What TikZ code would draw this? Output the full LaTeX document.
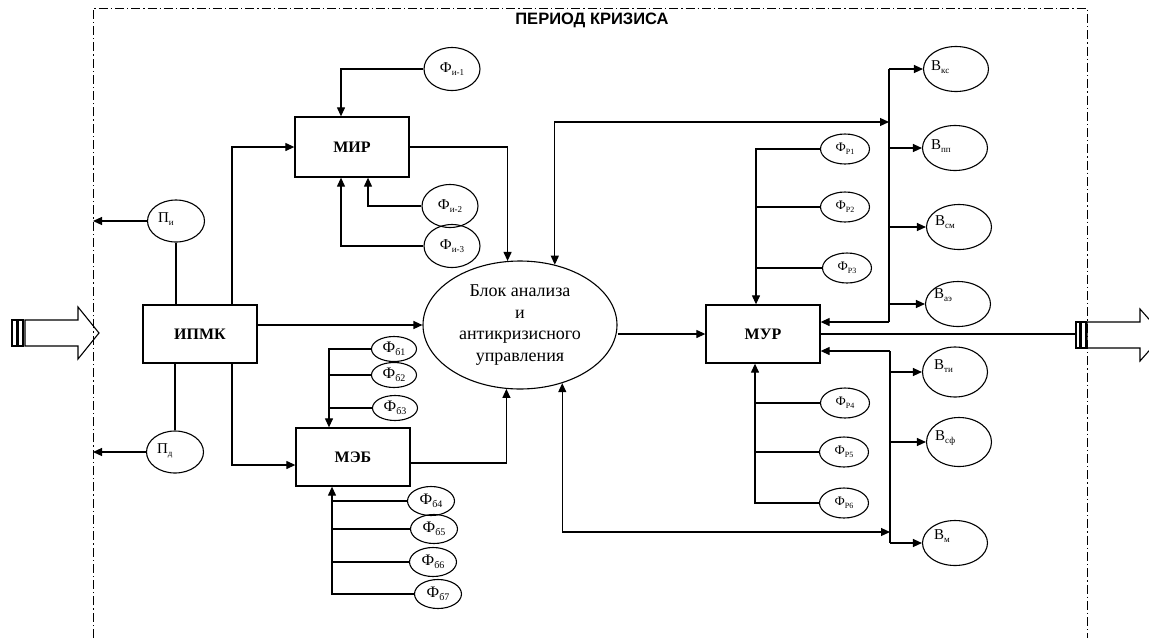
\documentclass[tikz,border=0pt]{standalone}
\usepackage{fontspec}
\setmainfont{Liberation Serif}
\newfontfamily\titlefont{Liberation Sans}
\usetikzlibrary{arrows.meta,positioning,calc,shapes.geometric}
\tikzset{
  blk/.style   ={draw,line width=1.3pt,minimum width=114pt,minimum height=58pt,inner sep=0pt,font=\fontsize{16}{16}\selectfont\bfseries},
  ov/.style    ={ellipse,draw,line width=1.1pt,inner sep=0pt},
  fio/.style   ={ov,minimum width=56pt,minimum height=43pt,font=\fontsize{15}{15}\selectfont},
  fbo/.style   ={ov,minimum width=45pt,minimum height=25pt,font=\fontsize{16}{16}\selectfont},
  fbl/.style   ={fbo,minimum width=47pt,minimum height=29pt},
  fro/.style   ={ov,minimum width=49pt,minimum height=30pt,font=\fontsize{13}{13}\selectfont},
  vo/.style    ={ov,minimum width=65pt,minimum height=45pt},
  po/.style    ={ov,minimum width=57pt,minimum height=42pt},
  ltxt/.style  ={anchor=west,inner sep=0pt,font=\fontsize{15}{15}\selectfont},
  ln/.style    ={line width=1.2pt},
  arr/.style   ={ln,-{Triangle[length=9pt,width=8pt]}},
  arrs/.style  ={ln,{Triangle[length=9pt,width=8pt]}-{Triangle[length=9pt,width=8pt]}},
  frame/.style ={line width=1pt,dash pattern=on 9pt off 3pt on 1.3pt off 3pt},
  bigarr/.style={draw,line width=1.1pt},
}
\newcommand{\lowix}[2][9]{\raisebox{-0.45ex}{\fontsize{#1}{#1}\selectfont #2}}

\begin{document}
\begin{tikzpicture}[x=1pt,y=-1pt]
  \useasboundingbox (0,0) rectangle (1149,638);
  % input and output arrows
  \draw[bigarr] (12,320) rectangle (17,346);
  \draw[bigarr] (18,320) rectangle (23,346);
  \draw[bigarr] (25,320) -- (78,320) -- (78,307) -- (99,333) -- (78,359) -- (78,346) -- (25,346) -- cycle;
  \draw[bigarr] (1076,322) rectangle (1080,348);
  \draw[bigarr] (1081,322) rectangle (1086,348);
  \draw[bigarr] (1087,322) -- (1140,322) -- (1140,309) -- (1163,335) -- (1140,361) -- (1140,348) -- (1087,348) -- cycle;
  % crisis period frame
  \draw[frame] (93,638) -- (93,8) -- (1087,8) -- (1087,638);
  \node[font=\titlefont\bfseries\fontsize{16.5}{16.5}\selectfont] (title) at (592,20.5) {ПЕРИОД КРИЗИСА};
  \coordinate (fl) at (93,0);

  % blocks
  \node[blk] (ipmk) at (200,334) {ИПМК};
  \node[blk,minimum height=60pt] (mir) at (352,147) {МИР};
  \node[blk] (meb) at (353,457) {МЭБ};
  \node[blk] (mur) at (763,334) {МУР};
  \node[ov,minimum width=194pt,minimum height=128pt,align=center,font=\fontsize{18}{21.7}\selectfont] (blok) at (520,325)
       {Блок анализа\\и\\антикризисного\\управления};

  % P ovals
  \node[po,label={[ltxt,xshift=11pt,yshift=2pt]west:П\lowix{и}}] (pi) at (176,221) {};
  \node[po,label={[ltxt,xshift=11pt,yshift=1pt]west:П\lowix{д}}] (pd) at (175,452) {};
  \draw[arr] (pi.west) -- (pi.west -| fl);
  \draw[arr] (pd.west) -- (pd.west -| fl);
  \draw[ln] (pi.south) -- (pi.south |- ipmk.north);
  \draw[ln] (pd.north) -- (pd.north |- ipmk.south);
  \draw[arr] ([xshift=32pt]ipmk.north) |- (mir.west);
  \draw[arr] ([xshift=32pt]ipmk.south) |- ([yshift=-8pt]meb.west);
  \draw[arr] (ipmk.east |- blok.west) -- (blok.west);

  % MIR factors
  \node[fio] (fi1) at (452,69) {Ф\lowix{и-1}};
  \node[fio] (fi2) at (450,206) {Ф\lowix{и-2}};
  \node[fio] (fi3) at (452,246) {Ф\lowix{и-3}};
  \draw[arr] (fi1.west) -| ([xshift=-11pt]mir.north);
  \draw[arr] (fi2.west) -| ([xshift=16pt]mir.south);
  \draw[arr] (fi3.west) -| ([xshift=-11pt]mir.south);
  \draw[arr] (mir.east) -| (blok.101.6);

  % MEB factors
  \node[fbo] (fb1) at (394,349) {Ф\lowix[10]{б1}};
  \node[fbo] (fb2) at (394,375) {Ф\lowix[10]{б2}};
  \node[fbo] (fb3) at (395,408) {Ф\lowix[10]{б3}};
  \node[fbl] (fb4) at (431,501) {Ф\lowix[10]{б4}};
  \node[fbl] (fb5) at (434,529) {Ф\lowix[10]{б5}};
  \node[fbl] (fb6) at (433,562) {Ф\lowix[10]{б6}};
  \node[fbl] (fb7) at (438,594) {Ф\lowix[10]{б7}};
  \draw[arr] (fb1.west) -| ([xshift=-24pt]meb.north);
  \foreach \f in {fb2,fb3}
    \draw[ln] (\f.west) -- ([xshift=-24pt]meb.north |- \f.west);
  \draw[arr] (fb7.west) -| ([xshift=-21pt]meb.south);
  \foreach \f in {fb4,fb5,fb6}
    \draw[ln] (\f.west) -- ([xshift=-21pt]meb.south |- \f.west);
  \draw[arr] ([yshift=-6pt]meb.east) -| (blok.258.4);

  % to MUR
  \draw[arr] (mur.west -| blok.east) -- (mur.west);
  \draw[ln] (mur.east) -- (1076,334);

  % MUR factors
  \node[fro] (fr1) at (845,149) {Ф\lowix[8]{Р1}};
  \node[fro] (fr2) at (845,207) {Ф\lowix[8]{Р2}};
  \node[fro] (fr3) at (847,268) {Ф\lowix[8]{Р3}};
  \node[fro] (fr4) at (845,403) {Ф\lowix[8]{Р4}};
  \node[fro] (fr5) at (844,452) {Ф\lowix[8]{Р5}};
  \node[fro] (fr6) at (844,503) {Ф\lowix[8]{Р6}};
  \draw[arr] (fr1.west) -| ([xshift=-7pt]mur.north);
  \foreach \f in {fr2,fr3}
    \draw[ln] (\f.west) -- ([xshift=-7pt]mur.north |- \f.west);
  \draw[arr] (fr6.west) -| ([xshift=-8pt]mur.south);
  \foreach \f in {fr4,fr5}
    \draw[ln] (\f.west) -- ([xshift=-8pt]mur.south |- \f.west);

  % results
  \node[vo,label={[ltxt,xshift=8pt,yshift=2pt]west:В\lowix{кс}}] (vks) at (956,69) {};
  \node[vo,label={[ltxt,xshift=9pt,yshift=2pt]west:В\lowix{пп}}] (vpp) at (955,148) {};
  \node[vo,label={[ltxt,xshift=9pt,yshift=5pt]west:В\lowix{см}}] (vsm) at (959,227) {};
  \node[vo,label={[ltxt,xshift=9pt,yshift=9pt]west:В\lowix{аэ}}] (vae) at (958,304) {};
  \node[vo,minimum height=50pt,label={[ltxt,xshift=12pt,yshift=6pt]west:В\lowix{ти}}] (vti) at (955,372) {};
  \node[vo,minimum height=49pt,label={[ltxt,xshift=9pt,yshift=4pt]west:В\lowix{сф}}] (vsf) at (959,442) {};
  \node[vo,label={[ltxt,xshift=12pt,yshift=7pt]west:В\lowix{м}}] (vm) at (955,543) {};

  \coordinate (bt) at (889,69);
  \coordinate (bb) at (889,322);
  \coordinate (bin) at (889,122);
  \coordinate (lt) at (890,351);
  \coordinate (lb) at (890,543);
  \coordinate (lin) at (890,532);
  \draw[ln] (bt) -- (bb);
  \draw[ln] (lt) -- (lb);
  \foreach \v in {vks,vpp,vsm,vae}
    \draw[arr] (bt |- \v.west) -- (\v.west);
  \foreach \v in {vti,vsf,vm}
    \draw[arr] (lt |- \v.west) -- (\v.west);
  \draw[arr] (bb) -- (bb -| mur.east);
  \draw[arr] (lt) -- (lt -| mur.east);
  \draw[arrs] (blok.60.5) |- (bin);
  \draw[arrs] (blok.306) |- (lin);
\end{tikzpicture}
\end{document}
